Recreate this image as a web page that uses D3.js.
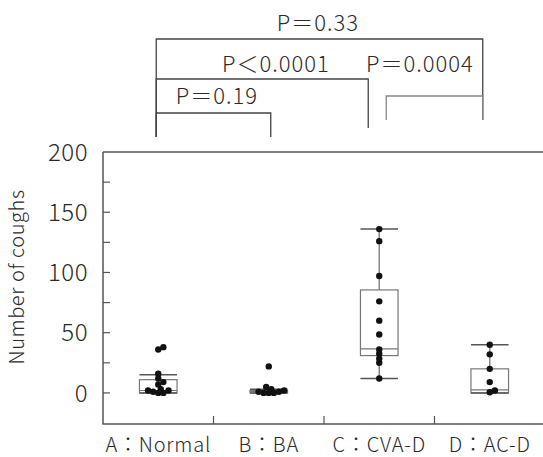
<!DOCTYPE html>
<html>
<head>
<meta charset="utf-8">
<script src="https://cdn.jsdelivr.net/npm/d3@7"></script>
<style>
  body { margin: 0; background: #fff; }
  text { font-family: "Noto Sans CJK JP", "Noto Sans", sans-serif; font-weight: 300; fill: #2a2a2a; }
</style>
</head>
<body>
<svg id="chart" width="543" height="457"></svg>
<script>
// data
const categories = ["A", "B", "C", "D"],
  categoryLabels = ["A：Normal", "B：BA", "C：CVA-D", "D：AC-D"],
  pointsA = [38, 36, 16, 12, 9, 7, 3, 2, 2, 1, 0, 0],
  pointsB = [22, 5, 3, 2, 1, 1, 0, 0, 0],
  pointsC = [136, 126, 97, 76, 60, 48.5, 36, 32.5, 28.5, 25, 12],
  pointsD = [40, 32, 20, 9, 2, 0.5],
  // [whisker low, q1, median, q3, whisker high]
  boxA = [0, 0, 2, 11, 15],
  boxB = [0, 0, 1, 2, 3],
  boxC = [12, 31, 36.5, 85.5, 136],
  boxD = [0, 0, 2.5, 20, 40],
  yTicks = [0, 50, 100, 150, 200],
  yMinorTicks = [0, 25, 50, 75, 100, 125, 150, 175],
  bracketPairs = [["A", "D"], ["A", "C"], ["A", "B"], ["C", "D"]],
  bracketLabels = ["P＝0.33", "P＜0.0001", "P＝0.19", "P＝0.0004"];

const points = [pointsA, pointsB, pointsC, pointsD],
  boxes = [boxA, boxB, boxC, boxD];

const svg = d3.select("#chart"),
  LEFT = 103, RIGHT = 545, TOP = 152, BOTTOM = 424,
  R = 3.2;

const x = d3.scaleBand().domain(categories).range([LEFT, RIGHT]).padding(0),
  y = d3.scaleLinear().domain([-25.8, 200]).range([BOTTOM, TOP]),
  boxW = x.bandwidth() * 0.34;

const cx = c => x(c) + x.bandwidth() / 2;

// frame
svg.append("path")
  .attr("d", `M${LEFT},${y(200)}H${RIGHT}M${LEFT},${TOP}V${BOTTOM}H${RIGHT}`)
  .attr("fill", "none").attr("stroke", "#555").attr("stroke-width", 1.5);

// y ticks (drawn inward)
svg.append("g").selectAll("line")
  .data(yMinorTicks).enter().append("line")
  .attr("x1", LEFT).attr("x2", LEFT + 7)
  .attr("y1", d => y(d)).attr("y2", d => y(d))
  .attr("stroke", "#555").attr("stroke-width", 1.2);

svg.append("g").selectAll("text")
  .data(yTicks).enter().append("text")
  .attr("x", 88).attr("y", d => y(d))
  .attr("dy", "0.36em")
  .attr("text-anchor", "end")
  .attr("font-size", 24)
  .attr("letter-spacing", 0.5)
  .text(d => d);

svg.append("text")
  .attr("transform", `translate(24,277) rotate(-90)`)
  .attr("text-anchor", "middle")
  .attr("font-size", 20)
  .attr("letter-spacing", 0.6)
  .text("Number of coughs");

// x separators and labels
svg.append("g").selectAll("line")
  .data(categories.slice(1)).enter().append("line")
  .attr("x1", d => x(d)).attr("x2", d => x(d))
  .attr("y1", BOTTOM).attr("y2", BOTTOM - 8)
  .attr("stroke", "#555").attr("stroke-width", 1.2);

svg.append("g").selectAll("text")
  .data(categories).enter().append("text")
  .attr("x", d => cx(d)).attr("y", 452)
  .attr("text-anchor", "middle")
  .attr("font-size", 20)
  .attr("letter-spacing", 0.8)
  .text((d, i) => categoryLabels[i]);

// box plots
const bg = svg.append("g").selectAll("g")
  .data(categories).enter().append("g");

bg.append("line")
  .attr("x1", d => cx(d)).attr("x2", d => cx(d))
  .attr("y1", (d, i) => y(boxes[i][0])).attr("y2", (d, i) => y(boxes[i][4]))
  .attr("stroke", "#888").attr("stroke-width", 1.5);

bg.append("rect")
  .attr("x", d => cx(d) - boxW / 2).attr("width", boxW)
  .attr("y", (d, i) => y(boxes[i][3]))
  .attr("height", (d, i) => y(boxes[i][1]) - y(boxes[i][3]))
  .attr("fill", "#fff").attr("stroke", "#777").attr("stroke-width", 1.2);

[0, 2, 4].forEach(k => {
  bg.append("line")
    .attr("x1", d => cx(d) - boxW / 2).attr("x2", d => cx(d) + boxW / 2)
    .attr("y1", (d, i) => y(boxes[i][k])).attr("y2", (d, i) => y(boxes[i][k]))
    .attr("stroke", k === 2 ? "#777" : "#555").attr("stroke-width", k === 2 ? 1.2 : 1.5);
});

// loose beeswarm: dots may overlap a fair bit, like the original
function dodge(vals, centre) {
  const placed = [];
  vals.slice().sort((a, b) => a - b).forEach(v => {
    const py = y(v);
    for (let k = 0; k < 20; k++) {
      const off = (k % 2 ? 1 : -1) * Math.ceil(k / 2) * R * 0.8;
      const px = centre + off;
      if (placed.every(p => Math.hypot(p.x - px, p.y - py) >= 1.2 * R)) {
        placed.push({ x: px, y: py });
        break;
      }
    }
  });
  return placed;
}

categories.forEach((c, i) => {
  svg.append("g").selectAll("circle")
    .data(dodge(points[i], cx(c))).enter().append("circle")
    .attr("cx", d => d.x).attr("cy", d => d.y)
    .attr("r", R).attr("fill", "#111");
});

// significance brackets
const bracketLayout = [
  { top: 39, legs: [137, 120], off: [-2, -7], textX: 318, textY: 31, colour: "#444" },
  { top: 79, legs: [137, 128], off: [-2, -11], textX: 276, textY: 72, colour: "#444" },
  { top: 113, legs: [137, 137], off: [-2, 2], textX: 217, textY: 104, colour: "#444" },
  { top: 96, legs: [120, 120], off: [7, -7], textX: 420, textY: 72, colour: "#888" }
];

bracketPairs.forEach((pair, i) => {
  const L = bracketLayout[i],
    x1 = cx(pair[0]) + L.off[0],
    x2 = cx(pair[1]) + L.off[1];
  svg.append("path")
    .attr("d", `M${x1},${L.legs[0]}V${L.top}H${x2}V${L.legs[1]}`)
    .attr("fill", "none").attr("stroke", L.colour).attr("stroke-width", 1.3);
  svg.append("text")
    .attr("x", L.textX).attr("y", L.textY)
    .attr("text-anchor", "middle")
    .attr("font-size", 22)
    .attr("letter-spacing", 1)
    .text(bracketLabels[i]);
});
</script>
</body>
</html>
